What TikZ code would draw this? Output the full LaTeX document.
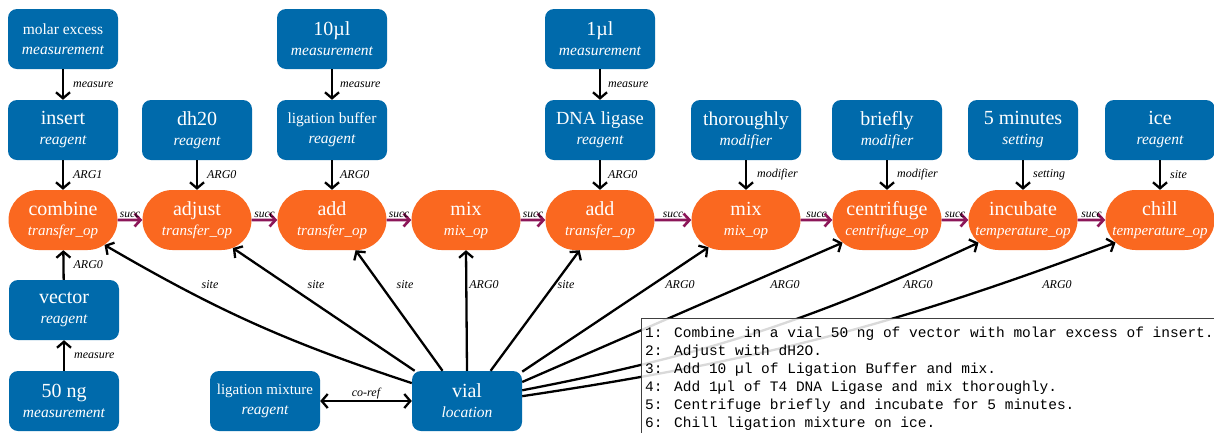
\documentclass[tikz,border=0pt]{standalone}
\usepackage{fontspec}
\setmainfont{Liberation Serif}
\newfontfamily\codefont{Liberation Mono}
\usetikzlibrary{arrows.meta,shapes.misc,calc}
\definecolor{nodeblue}{RGB}{0,106,171}
\definecolor{nodeorange}{RGB}{250,104,32}
\definecolor{succcol}{RGB}{140,22,88}
\newcommand\mlbl[2]{{\fontsize{#1}{#1}\selectfont #2}}
\newcommand\tlbl[1]{{\itshape #1}}
\begin{document}
\begin{tikzpicture}[x=1pt,y=-1pt,
  bluebox/.style={rectangle, rounded corners=9pt, fill=nodeblue, text=white,
    minimum width=110pt, minimum height=60pt, align=center, inner sep=0pt,
    font=\fontsize{15.5}{20}\selectfont},
  opnode/.style={rounded rectangle, fill=nodeorange, text=white,
    minimum width=109pt, minimum height=60pt, align=center, inner sep=0pt,
    font=\fontsize{15}{20}\selectfont},
  rel/.style={line width=2.3pt, -{Straight Barb[length=6pt,width=14pt]}},
  corefarrow/.style={line width=2.3pt, {Straight Barb[length=6pt,width=14pt]}-{Straight Barb[length=6pt,width=14pt]}},
  succarrow/.style={line width=2.6pt, succcol, -{Straight Barb[length=6pt,width=13pt]}},
  elabel/.style={font=\fontsize{12}{14}\selectfont\itshape, text=black, inner sep=1pt},
  slabel/.style={font=\fontsize{11.5}{13}\selectfont\itshape, text=black, inner sep=1.5pt},
]
\clip (0,0) rectangle (1214,432);
\fill[white] (0,0) rectangle (1214,432);

% top row
\node[bluebox] (molar) at (63,39) {\mlbl{15.5}{molar excess}\\\tlbl{measurement}};
\node[bluebox] (tenul) at (332,39) {\mlbl{20}{10µl}\\\tlbl{measurement}};
\node[bluebox] (oneul) at (600,39) {\mlbl{20}{1µl}\\\tlbl{measurement}};

% reagent row
\node[bluebox] (insert) at (63,130) {\mlbl{20}{insert}\\\tlbl{reagent}};
\node[bluebox] (dhtwo) at (197,130) {\mlbl{20}{dh20}\\\tlbl{reagent}};
\node[bluebox] (ligbuf) at (332,130) {\mlbl{15.5}{ligation buffer}\\\tlbl{reagent}};
\node[bluebox] (dnalig) at (600,130) {\mlbl{18.5}{DNA ligase}\\\tlbl{reagent}};
\node[bluebox] (thor) at (746,130) {\mlbl{19.5}{thoroughly}\\\tlbl{modifier}};
\node[bluebox] (brief) at (887,130) {\mlbl{20}{briefly}\\\tlbl{modifier}};
\node[bluebox] (fivemin) at (1023,130) {\mlbl{20}{5 minutes}\\\tlbl{setting}};
\node[bluebox] (ice) at (1160,130) {\mlbl{20}{ice}\\\tlbl{reagent}};

% operations row
\node[opnode] (combine) at (63,220) {\mlbl{20}{combine}\\\tlbl{transfer\_op}};
\node[opnode] (adjust) at (197,220) {\mlbl{20}{adjust}\\\tlbl{transfer\_op}};
\node[opnode] (addA) at (332,220) {\mlbl{20}{add}\\\tlbl{transfer\_op}};
\node[opnode] (mixA) at (466,220) {\mlbl{20}{mix}\\\tlbl{mix\_op}};
\node[opnode] (addB) at (600,220) {\mlbl{20}{add}\\\tlbl{transfer\_op}};
\node[opnode] (mixB) at (746,220) {\mlbl{20}{mix}\\\tlbl{mix\_op}};
\node[opnode] (centri) at (887,220) {\mlbl{20}{centrifuge}\\\tlbl{centrifuge\_op}};
\node[opnode] (incub) at (1023,220) {\mlbl{20}{incubate}\\\tlbl{temperature\_op}};
\node[opnode] (chill) at (1160,220) {\mlbl{20}{chill}\\\tlbl{temperature\_op}};

% bottom
\node[bluebox] (vector) at (64,310) {\mlbl{20}{vector}\\\tlbl{reagent}};
\node[bluebox] (fiftyng) at (64,401) {\mlbl{20}{50 ng}\\\tlbl{measurement}};
\node[bluebox] (ligmix) at (265,401) {\mlbl{15}{ligation mixture}\\\tlbl{reagent}};
\node[bluebox] (vial) at (467,401) {\mlbl{20}{vial}\\\tlbl{location}};

% vertical relations
\draw[rel] (molar) -- node[elabel, right, xshift=8pt]{measure} (insert);
\draw[rel] (tenul) -- node[elabel, right, xshift=6pt]{measure} (ligbuf);
\draw[rel] (oneul) -- node[elabel, right, xshift=6pt]{measure} (dnalig);
\draw[rel] (insert) -- node[elabel, right, xshift=8pt]{ARG1} (combine);
\draw[rel] (dhtwo) -- node[elabel, right, xshift=8pt]{ARG0} (adjust);
\draw[rel] (ligbuf) -- node[elabel, right, xshift=6pt]{ARG0} (addA);
\draw[rel] (dnalig) -- node[elabel, right, xshift=6pt]{ARG0} (addB);
\draw[rel] (thor) -- node[elabel, right, xshift=9pt]{modifier} (mixB);
\draw[rel] (brief) -- node[elabel, right, xshift=8pt]{modifier} (centri);
\draw[rel] (fivemin) -- node[elabel, right, xshift=8pt]{setting} (incub);
\draw[rel] (ice) -- node[elabel, right, xshift=8pt]{site} (chill);
\draw[rel] (vector) -- node[elabel, right, xshift=8pt]{ARG0} (combine);
\draw[rel] (fiftyng) -- node[elabel, right, xshift=8pt]{measure} (vector);

% succession
\draw[succarrow] (combine) -- node[slabel, above]{succ} (adjust);
\draw[succarrow] (adjust) -- node[slabel, above]{succ} (addA);
\draw[succarrow] (addA) -- node[slabel, above]{succ} (mixA);
\draw[succarrow] (mixA) -- node[slabel, above]{succ} (addB);
\draw[succarrow] (addB) -- node[slabel, above]{succ} (mixB);
\draw[succarrow] (mixB) -- node[slabel, above]{succ} (centri);
\draw[succarrow] (centri) -- node[slabel, above]{succ} (incub);
\draw[succarrow] (incub) -- node[slabel, above]{succ} (chill);

% vial relations
\draw[rel] (vial.162) to[bend left=6] (combine.-31);
\draw[rel] (vial.150) -- (adjust.-38);
\draw[rel] (vial.129) -- (addA.-52);
\draw[rel] (vial.north) -- (mixA.south);
\draw[rel] (vial.52) -- (addB.-124);
\draw[rel] (vial.28) -- (mixB.-144);
\draw[rel] (vial.19) -- (centri.-153);
\draw[rel] (vial.11) to[bend right=7] (incub.-153);
\draw[rel] (vial.5) to[bend right=6] (chill.-153);
\node[elabel] (lsA) at (210,285) {site};
\node[elabel] (lsB) at (316,285) {site};
\node[elabel] (lsC) at (405,285) {site};
\node[elabel] (lsD) at (484,285) {ARG0};
\node[elabel] (lsE) at (566,285) {site};
\node[elabel] (lsF) at (680,285) {ARG0};
\node[elabel] (lsG) at (785,285) {ARG0};
\node[elabel] (lsH) at (918,285) {ARG0};
\node[elabel] (lsI) at (1057,285) {ARG0};

\draw[corefarrow] (ligmix) -- node[elabel, above]{co-ref} (vial);

% step text box
\node[draw=black!75, line width=1.2pt, fill=white, fill opacity=0.85,
  anchor=north west, minimum width=590pt, minimum height=130pt, inner sep=0pt]
  (stepbox) at (641,318) {};
\node[anchor=north west, inner sep=0pt, align=left,
  font=\codefont\fontsize{14.5}{18}\selectfont] (steps) at (645,327) {%
1: Combine in a vial 50 ng of vector with molar excess of insert.\\
2: Adjust with dH2O.\\
3: Add 10 µl of Ligation Buffer and mix.\\
4: Add 1µl of T4 DNA Ligase and mix thoroughly.\\
5: Centrifuge briefly and incubate for 5 minutes.\\
6: Chill ligation mixture on ice.};
\end{tikzpicture}
\end{document}
